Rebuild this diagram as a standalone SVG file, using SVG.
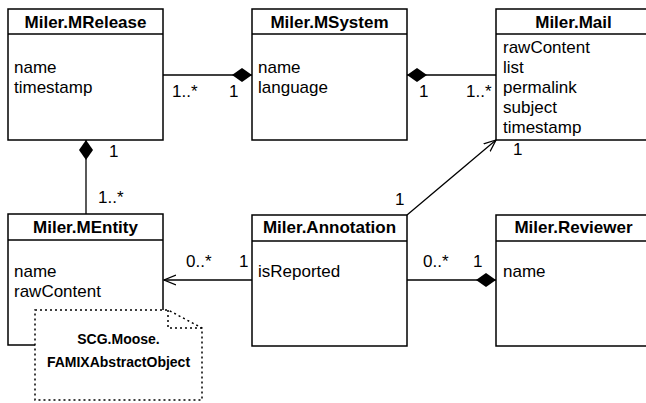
<svg xmlns="http://www.w3.org/2000/svg" width="646" height="403" viewBox="0 0 646 403">
<style>
.box{fill:#fff;stroke:#000;stroke-width:1.5}
.t{font-family:"Liberation Sans",Arial,sans-serif;font-size:17px;font-weight:bold;text-anchor:middle;fill:#000}
.a{font-family:"Liberation Sans",Arial,sans-serif;font-size:17px;fill:#000}
.l{font-family:"Liberation Sans",Arial,sans-serif;font-size:17px;fill:#000}
.c{fill:none;stroke:#000;stroke-width:1.3}
.n{font-family:"Liberation Sans",Arial,sans-serif;font-size:14px;font-weight:bold;text-anchor:middle;fill:#000}
.dot{fill:none;stroke:#000;stroke-width:1.5;stroke-dasharray:2 3}
</style>
<defs>
<marker id="dia" markerUnits="userSpaceOnUse" markerWidth="22" markerHeight="16" refX="20" refY="7" orient="auto">
<path d="M0,7 L10,0 L20,7 L10,14 Z" fill="#000"/>
</marker>
<marker id="arr" markerUnits="userSpaceOnUse" markerWidth="14" markerHeight="14" refX="12" refY="6" orient="auto">
<path d="M0,1 L12,6 L0,11" fill="none" stroke="#000" stroke-width="1.3"/>
</marker>
</defs>
<g id="connectors">
<line class="c" x1="163" y1="75" x2="252" y2="75" marker-end="url(#dia)"/>
<line class="c" x1="496" y1="75" x2="407" y2="75" marker-end="url(#dia)"/>
<line class="c" x1="86" y1="214" x2="86" y2="140" marker-end="url(#dia)"/>
<line class="c" x1="407" y1="215" x2="496" y2="140" marker-end="url(#arr)"/>
<line class="c" x1="252" y1="280" x2="164" y2="280" marker-end="url(#arr)"/>
<line class="c" x1="407" y1="280" x2="496" y2="280" marker-end="url(#dia)"/>
<text class="l" x="172" y="97">1..*</text>
<text class="l" x="229" y="97">1</text>
<text class="l" x="419" y="97">1</text>
<text class="l" x="466" y="97">1..*</text>
<text class="l" x="109" y="157">1</text>
<text class="l" x="98" y="203">1..*</text>
<text class="l" x="395" y="205">1</text>
<text class="l" x="513" y="155">1</text>
<text class="l" x="186" y="267">0..*</text>
<text class="l" x="239" y="267">1</text>
<text class="l" x="423" y="267">0..*</text>
<text class="l" x="473" y="267">1</text>
</g>
<g id="MRelease">
<rect class="box" x="8" y="9" width="155" height="131"/>
<line class="box" x1="8" y1="34" x2="163" y2="34"/>
<text class="t" x="85.5" y="28">Miler.MRelease</text>
<text class="a" x="14" y="73">name</text>
<text class="a" x="14" y="93">timestamp</text>
</g>
<g id="MSystem">
<rect class="box" x="252" y="9" width="155" height="131"/>
<line class="box" x1="252" y1="34" x2="407" y2="34"/>
<text class="t" x="329.5" y="28">Miler.MSystem</text>
<text class="a" x="258" y="73">name</text>
<text class="a" x="258" y="93">language</text>
</g>
<g id="Mail">
<rect class="box" x="496" y="9" width="155" height="131"/>
<line class="box" x1="496" y1="34" x2="651" y2="34"/>
<text class="t" x="573.5" y="28">Miler.Mail</text>
<text class="a" x="503" y="53">rawContent</text>
<text class="a" x="503" y="73">list</text>
<text class="a" x="503" y="93">permalink</text>
<text class="a" x="503" y="113">subject</text>
<text class="a" x="503" y="133">timestamp</text>
</g>
<g id="MEntity">
<rect class="box" x="8" y="214" width="155" height="131"/>
<line class="box" x1="8" y1="240" x2="163" y2="240"/>
<text class="t" x="85.5" y="233">Miler.MEntity</text>
<text class="a" x="14" y="277">name</text>
<text class="a" x="14" y="297">rawContent</text>
</g>
<g id="Annotation">
<rect class="box" x="252" y="215" width="155" height="131"/>
<line class="box" x1="252" y1="241" x2="407" y2="241"/>
<text class="t" x="329.5" y="233">Miler.Annotation</text>
<text class="a" x="258" y="277">isReported</text>
</g>
<g id="Reviewer">
<rect class="box" x="496" y="215" width="155" height="131"/>
<line class="box" x1="496" y1="241" x2="651" y2="241"/>
<text class="t" x="573.5" y="233">Miler.Reviewer</text>
<text class="a" x="503" y="277">name</text>
</g>
<g id="Note">
<path d="M35,310 L168,310 L202,328 L202,400 L35,400 Z" fill="#fff" stroke="none"/>
<path class="dot" d="M35,310 L168,310 L202,328 L202,400 L35,400 Z"/>
<path class="dot" d="M168,310 L168,328 L202,328"/>
<text class="n" x="118.5" y="344">SCG.Moose.</text>
<text class="n" x="118.5" y="367">FAMIXAbstractObject</text>
</g>
</svg>
